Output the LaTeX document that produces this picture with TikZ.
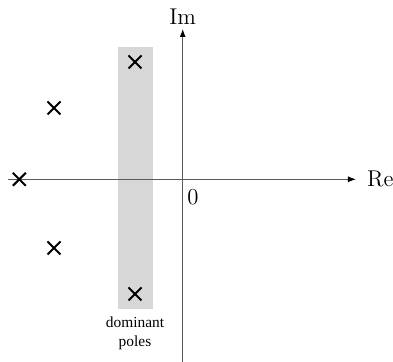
\documentclass[tikz,border=0pt]{standalone}
\usepackage{xcolor}
\usepackage{fontspec}
\newfontfamily\timesfont{Liberation Serif}
\definecolor{axisgray}{RGB}{90,90,90}
\definecolor{bandgray}{RGB}{215,215,215}
\usetikzlibrary{arrows.meta,positioning,shapes.misc}

\begin{document}
\begin{tikzpicture}[x=0.5pt,y=0.5pt,
  axis/.style={draw=axisgray,line width=0.5pt,-{Latex[length=4pt,width=3pt,color=black]}},
  pole/.style={draw,cross out,line width=1pt,minimum size=5.5pt,inner sep=0pt},
  lbl/.style={font=\fontsize{11.4}{13}\selectfont,inner sep=1pt}
]
  \useasboundingbox (-182.7,-182.7) rectangle (210.3,179.3);
  % dominant band
  \fill[bandgray] (-64.7,-129.7) rectangle (-29.7,132.6);
  % axes
  \coordinate (reL) at (-174.7,0);
  \coordinate (reR) at (173.3,0);
  \coordinate (imB) at (0,-182.7);
  \coordinate (imT) at (0,150.3);
  \draw[axis] (reL) -- (reR);
  \draw[axis] (imB) -- (imT);
  \node[lbl,anchor=west] (re) at (182,0) {Re};
  \node[lbl] (im) at (0,163) {Im};
  \node[lbl] (zero) at (10.3,-17.7) {0};
  % poles
  \node[pole] (p1) at (-47.7,117.3) {};
  \node[pole] (p2) at (-47.7,-114.7) {};
  \node[pole] (p3) at (-128.7,71.3) {};
  \node[pole] (p4) at (-128.7,-68.7) {};
  \node[pole] (p5) at (-163.4,0) {};
  \node[font=\timesfont\fontsize{7.7}{9.5}\selectfont,align=center,inner sep=0pt] (dom) at (-47.7,-154) {dominant\\poles};
\end{tikzpicture}
\end{document}
